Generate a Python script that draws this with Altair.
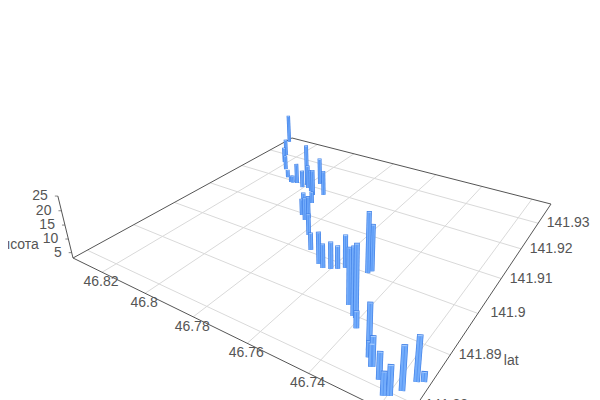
import altair as alt, pandas as pd

lon = [46.8331,46.8252,46.8213,46.8164,46.8110,46.8072,46.8063,46.8046,46.8006,46.8001,46.7982,46.7957,46.7931,46.7962,46.7897,46.7879,46.7876,46.7846,46.7843,46.7898,46.7775,46.7715,46.7646,46.7623,46.7599,46.7581,46.7563,46.7456,46.7488,46.7420,46.7409,46.7489,46.7483,46.7386,46.7314,46.7301,46.7277,46.7279,46.7241,46.7208,46.7195,46.7177,46.7160,46.7145]
lat = [141.9363,141.9297,141.9265,141.9237,141.9208,141.9193,141.9193,141.9196,141.9187,141.9200,141.9190,141.9182,141.9170,141.9218,141.9182,141.9102,141.9094,141.9082,141.9091,141.9142,141.9043,141.9006,141.8979,141.8973,141.8978,141.8984,141.8993,141.8916,141.8948,141.8898,141.8896,141.9000,141.9008,141.8878,141.8850,141.8838,141.8826,141.8825,141.8811,141.8791,141.8795,141.8810,141.8833,141.8838]
height = [14.8,9.5,8.9,8.4,5.6,5.2,5.4,10.6,9.4,19.0,11.9,11.2,12.8,13.2,12.3,10.6,8.9,11.2,11.1,7.1,10.6,8.9,14.0,11.2,12.2,10.8,14.3,21.5,16.5,24.9,26.3,23.7,18.9,8.3,17.5,7.8,12.2,9.9,11.3,10.0,12.0,16.4,16.8,5.8]
lon_ticks = [46.82,46.80,46.78,46.76,46.74,46.72]
lat_ticks = [141.88,141.89,141.90,141.91,141.92,141.93]
z_ticks = [5,10,15,20,25]
LON0, LON1, LAT0, LAT1, Z0 = 46.8348, 46.7128, 141.8772, 141.9385, 3

FONT = "Liberation Sans"
TEXT = "#555555"

def project(lon_f, lat_f, z_f, xn, yn):
    """Vega expressions for the perspective view of the 3D box."""
    s = f"(({LON0}-datum.{lon_f})/{LON0-LON1})"
    t = f"((datum.{lat_f}-{LAT0})/{LAT1-LAT0})"
    zz = f"(0.00244*(datum.{z_f}-{Z0}))"
    w = f"(1-0.3077*{s}+0.458*{t}-{zz})"
    return [
        alt.CalculateTransform(calculate=f"(208.1*{s}+352.7*{t}+73-340*{zz})/{w}", **{"as": xn}),
        alt.CalculateTransform(calculate=f"(33.5*{s}-56.8*{t}+258-1350*{zz})/{w}", **{"as": yn}),
    ]

def with_proj(ch, *ends):
    out = ch
    for e in ends:
        for tr in project(*e):
            out = out.transform_calculate(**{tr["as"]: tr["calculate"]})
    return out

X = lambda f: alt.X(f"{f}:Q", axis=None, scale=alt.Scale(domain=[8, 592], nice=False, zero=False))
Y = lambda f: alt.Y(f"{f}:Q", axis=None, scale=alt.Scale(domain=[400, 8], nice=False, zero=False))

# grid
grid_df = pd.DataFrame(
    [{"a": v, "b": LAT0, "c": v, "d": LAT1, "z": Z0} for v in lon_ticks]
    + [{"a": LON1, "b": v, "c": LON0, "d": v, "z": Z0} for v in lat_ticks]
)
grid = with_proj(alt.Chart(grid_df), ("a", "b", "z", "x1", "y1"), ("c", "d", "z", "x2", "y2")).mark_rule(
    color="#d9d9d9", strokeWidth=1
).encode(x=X("x1"), y=Y("y1"), x2="x2:Q", y2="y2:Q")

# box edges
edge_df = pd.DataFrame([
    {"a": LON0, "b": LAT0, "z1": Z0, "c": LON1, "d": LAT0, "z2": Z0},
    {"a": LON1, "b": LAT0, "z1": Z0, "c": LON1, "d": LAT1, "z2": Z0},
    {"a": LON1, "b": LAT1, "z1": Z0, "c": LON0, "d": LAT1, "z2": Z0},
    {"a": LON0, "b": LAT1, "z1": Z0, "c": LON0, "d": LAT0, "z2": Z0},
    {"a": LON0, "b": LAT0, "z1": Z0, "c": LON0, "d": LAT0, "z2": 25},
])
edges = with_proj(alt.Chart(edge_df), ("a", "b", "z1", "x1", "y1"), ("c", "d", "z2", "x2", "y2")).mark_rule(
    color="#555555", strokeWidth=1
).encode(x=X("x1"), y=Y("y1"), x2="x2:Q", y2="y2:Q")

# labels
lon_df = pd.DataFrame({"v": lon_ticks[:-1], "b": LAT0, "z": Z0, "label": ["46.82", "46.8", "46.78", "46.76", "46.74"]})
lat_df = pd.DataFrame({"a": LON1, "v": lat_ticks, "z": Z0, "label": ["141.88", "141.89", "141.9", "141.91", "141.92", "141.93"]})
z_df = pd.DataFrame({"a": LON0, "b": LAT0, "v": z_ticks, "label": [str(v) for v in z_ticks]})

txt = dict(font=FONT, fontSize=14, color=TEXT)
lon_lab = with_proj(alt.Chart(lon_df), ("v", "b", "z", "x", "y")).mark_text(align="center", baseline="middle", dx=-1, dy=10, **txt).encode(x=X("x"), y=Y("y"), text="label:N")
lat_lab = with_proj(alt.Chart(lat_df), ("a", "v", "z", "x", "y")).mark_text(align="center", baseline="middle", dx=30, dy=0, **txt).encode(x=X("x"), y=Y("y"), text="label:N")
z_lab = with_proj(alt.Chart(z_df), ("a", "b", "v", "x", "y")).mark_text(align="right", baseline="middle", dx=-10, **txt).encode(x=X("x"), y=Y("y"), text="label:N")
z_tick = with_proj(alt.Chart(z_df), ("a", "b", "v", "x", "y")).mark_tick(orient="horizontal", size=3, xOffset=-1.5, color="#555555", thickness=1).encode(x=X("x"), y=Y("y"))

z_name = with_proj(alt.Chart(pd.DataFrame({"a": [LON0], "b": [LAT0], "z": [7.8], "label": ["высота"]})), ("a", "b", "z", "x", "y")).mark_text(align="right", baseline="middle", dx=-31, **txt).encode(x=X("x"), y=Y("y"), text="label:N")
lat_name = with_proj(alt.Chart(pd.DataFrame({"a": [LON1], "b": [141.89], "z": [Z0], "label": ["lat"]})), ("a", "b", "z", "x", "y")).mark_text(align="center", baseline="middle", dx=61, dy=6, **txt).encode(x=X("x"), y=Y("y"), text="label:N")

# bars: outline stroke, lighter face, centre ridge and a pale top cap
bars_df = pd.DataFrame({"lon": lon, "lat": lat, "h": height, "z0": Z0})
parts = pd.DataFrame({"part": [0, 1, 2, 3]})
bars_df = bars_df.merge(parts, how="cross")
base = alt.Chart(bars_df).transform_calculate(
    zb="datum.part==3 ? datum.h : datum.z0",
    zt="datum.part==0 ? datum.h+0.6 : (datum.part==3 ? datum.h+0.35 : datum.h)",
)
bars = with_proj(base, ("lon", "lat", "zb", "bx", "by"), ("lon", "lat", "zt", "tx", "ty")).transform_calculate(
    W=f"1-0.3077*({LON0}-datum.lon)/{LON0-LON1}+0.458*(datum.lat-{LAT0})/{LAT1-LAT0}",
).transform_calculate(
    sw="datum.part==0 ? 4.9/datum.W : (datum.part==2 ? 0.7 : 4.9/datum.W-1.3)",
    ord="round(-datum.W*1000)*10+datum.part",
).mark_rule().encode(
    x=X("bx"), y=Y("by"), x2="tx:Q", y2="ty:Q",
    color=alt.Color("part:N", legend=None, scale=alt.Scale(domain=[0, 1, 2, 3], range=["#3f7fe6", "#74adfb", "#4d8ef0", "#a5ccff"])),
    strokeWidth=alt.StrokeWidth("sw:Q", scale=None),
    order=alt.Order("ord:Q"),
)

chart = alt.layer(grid, edges, z_tick, bars, lon_lab, lat_lab, z_lab, z_name, lat_name).properties(
    width=584, height=392, padding=0, autosize=alt.AutoSizeParams(type="none"),
).configure_view(stroke=None)

chart.save("out.html", embed_options={"renderer": "svg", "actions": False})
